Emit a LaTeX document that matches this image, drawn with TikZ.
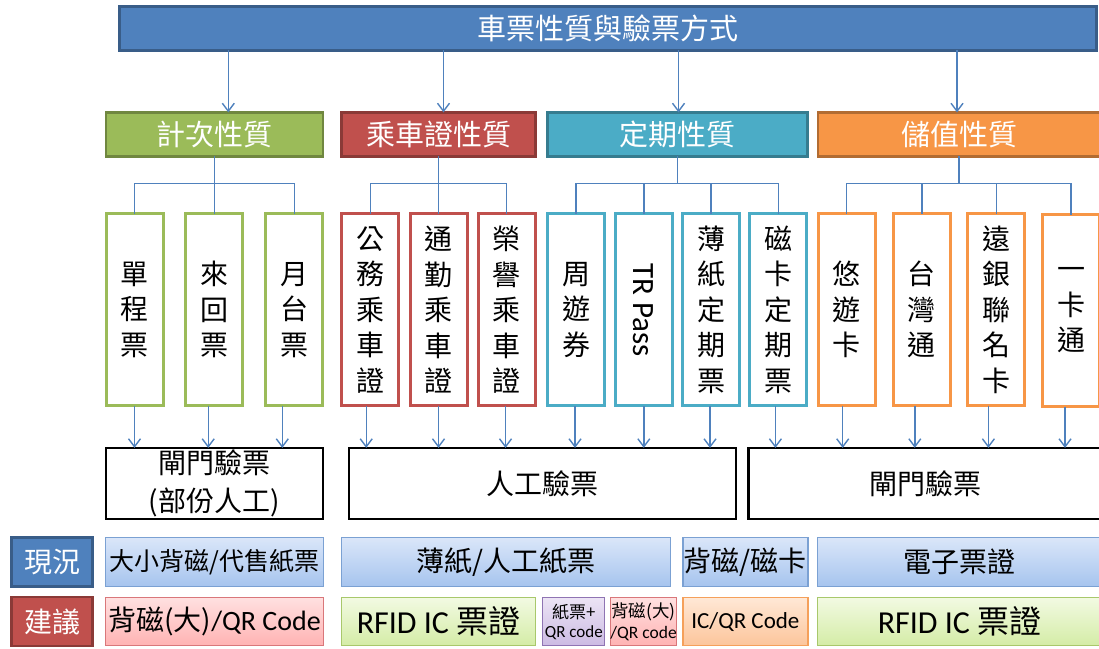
\documentclass[tikz,border=0pt]{standalone}
\usepackage{fontspec}
\setmainfont{Carlito}
\newfontfamily\cjk{Noto Sans CJK TC}
\usetikzlibrary{arrows.meta,positioning}
\definecolor{linkblue}{HTML}{4F81BD}
\definecolor{topblue}{HTML}{4F81BD}
\definecolor{catgreen}{HTML}{9BBB59}
\definecolor{catred}{HTML}{C0504D}
\definecolor{catteal}{HTML}{4BACC6}
\definecolor{catorange}{HTML}{F79646}
\definecolor{nowtop}{HTML}{DAE6F9}
\definecolor{nowbot}{HTML}{A6C4EE}
\definecolor{nowline}{HTML}{7BA1D3}
\definecolor{pinktop}{HTML}{FFE0E0}
\definecolor{pinkbot}{HTML}{FFB3B3}
\definecolor{pinkline}{HTML}{D9777A}
\definecolor{greentop}{HTML}{F2FAE2}
\definecolor{greenbot}{HTML}{D4ECA6}
\definecolor{greenline}{HTML}{A8C86B}
\definecolor{purpletop}{HTML}{ECE4F5}
\definecolor{purplebot}{HTML}{CCBBE3}
\definecolor{purpleline}{HTML}{8F74B3}
\definecolor{orangetop}{HTML}{FFE8D6}
\definecolor{orangebot}{HTML}{FCC59B}
\definecolor{orangeline}{HTML}{F5A05A}
\tikzset{every node/.style={inner sep=0pt,outer sep=0pt}}
\tikzset{
  catbox/.style={draw=#1!72!black,fill=#1,line width=2.5pt,text=white,
    minimum height=44pt,font=\cjk\fontsize{29}{34}\selectfont},
  leafbox/.style={draw=#1,fill=white,line width=3pt,minimum width=57pt,
    minimum height=192pt,align=center,font=\cjk\fontsize{28}{35.5}\selectfont},
  waybox/.style={draw=black,line width=2.5pt,minimum height=71pt,align=center,
    font=\cjk\fontsize{28}{38}\selectfont},
  tagbox/.style={draw=#1!72!black,fill=#1,line width=2.5pt,text=white,
    minimum width=81pt,minimum height=49pt,font=\cjk\fontsize{28}{34}\selectfont},
  nowbox/.style={draw=nowline,line width=1.2pt,top color=nowtop,bottom color=nowbot,
    minimum height=49pt,font=\cjk\fontsize{28}{34}\selectfont},
  ideabox/.style={draw=#1line,line width=1.2pt,top color=#1top,bottom color=#1bot,
    minimum height=48pt,align=center,font=\fontsize{28}{34}\selectfont},
  link/.style={draw=linkblue,line width=1.4pt}
}

\begin{document}
\begin{tikzpicture}[x=1pt,y=-1pt,>={Straight Barb[length=8pt,width=12pt]}]
\useasboundingbox (0,0) rectangle (1099,648);
% \draw[help lines] (0,0) grid (1099,648);
\node (top) [catbox=topblue,minimum width=977pt] at (608.2,28.4) {車票性質與驗票方式};
%
\node (c1) [catbox=catgreen,minimum width=217pt] at (214.3,134.4) {計次性質};
\node (c2) [catbox=catred,minimum width=194pt] at (438.5,134.4) {乘車證性質};
\node (c3) [catbox=catteal,minimum width=260pt] at (677.5,134.4) {定期性質};
\node (c4) [catbox=catorange,minimum width=282pt] at (959,134.4) {儲值性質};
%
\node (l1) [leafbox=catgreen] at (134.5,309.8) {單\\程\\票};
\node (l2) [leafbox=catgreen] at (214.2,309.8) {來\\回\\票};
\node (l3) [leafbox=catgreen] at (294.3,309.8) {月\\台\\票};
\node (l4) [leafbox=catred] at (370.2,309.8) {公\\務\\乘\\車\\證};
\node (l5) [leafbox=catred] at (438.5,309.8) {通\\勤\\乘\\車\\證};
\node (l6) [leafbox=catred] at (506.5,309.8) {榮\\譽\\乘\\車\\證};
\node (l7) [leafbox=catteal] at (576,309.8) {周\\遊\\券};
\node (l8) [leafbox=catteal] at (643.8,309.8) {\rotatebox{-90}{\rmfamily\fontsize{31}{34}\selectfont TR Pass}};
\node (l9) [leafbox=catteal] at (711,309.8) {薄\\紙\\定\\期\\票};
\node (l10) [leafbox=catteal] at (778.4,309.8) {磁\\卡\\定\\期\\票};
\node (l11) [leafbox=catorange] at (846.7,309.8) {悠\\遊\\卡};
\node (l12) [leafbox=catorange] at (921.8,309.8) {台\\灣\\通};
\node (l13) [leafbox=catorange] at (996.4,309.8) {遠\\銀\\聯\\名\\卡};
\node (l14) [leafbox=catorange] at (1071,310.5) {一\\卡\\通};
%
\node (m1) [waybox,minimum width=217pt] at (214.3,483.4) {閘門驗票\\(部份人工)};
\node (m2) [waybox,minimum width=387pt] at (542.3,483.4) {人工驗票};
\node (m3) [waybox,minimum width=354pt] at (925.5,483.4) {閘門驗票};
%
\node (s0) [tagbox=topblue] at (52.2,562.2) {現況};
\node (s1) [nowbox,minimum width=218pt,font=\cjk\fontsize{25}{30}\selectfont] at (214.6,562.2) {大小背磁/代售紙票};
\node (s2) [nowbox,minimum width=329pt] at (505.8,562.2) {薄紙/人工紙票};
\node (s3) [nowbox,minimum width=125pt] at (745.4,562.2) {背磁/磁卡};
\node (s4) [nowbox,minimum width=284pt] at (959.5,562.2) {電子票證};
%
\node (g0) [tagbox=catred] at (52.2,621.7) {建議};
\node (g1) [ideabox=pink,minimum width=218pt] at (214.6,621.7) {{\cjk 背磁(大)}/QR Code};
\node (g2) [ideabox=green,minimum width=194pt,font=\fontsize{32}{36}\selectfont] at (438.5,621.7) {RFID IC {\cjk 票證}};
\node (g3) [ideabox=purple,minimum width=62pt,font=\fontsize{17}{19}\selectfont] at (573.8,621.7) {{\cjk 紙票+}\\QR code};
\node (g4) [ideabox=pink,minimum width=62pt,font=\fontsize{17.5}{21}\selectfont] at (643.6,621.7) {{\cjk 背磁(大)}\\/QR code};
\node (g5) [ideabox=orange,minimum width=125pt,font=\fontsize{23}{28}\selectfont] at (745.4,621.7) {IC/QR Code};
\node (g6) [ideabox=green,minimum width=284pt,font=\fontsize{32}{36}\selectfont] at (959.5,621.7) {RFID IC {\cjk 票證}};
%
\foreach \c/\dx in {c1/14,c2/5,c3/1,c4/-2}
  \draw[link,<-] ([xshift=\dx pt]\c.north) -- ([xshift=\dx pt]\c.north |- top.south);
\foreach \c/\l in {c1/l1,c1/l2,c1/l3,c2/l4,c2/l5,c2/l6,c3/l7,c3/l8,c3/l9,c3/l10,c4/l11,c4/l12,c4/l13,c4/l14}
  \draw[link] (\c.south) -- ++(0,27) -| (\l.north);
\foreach \l/\m/\dx in {l1/m1/0,l2/m1/-6,l3/m1/-12,l4/m2/-4,l5/m2/0,l6/m2/-1,l7/m2/-1,l8/m2/0,
    l9/m2/-1,l10/m3/-3,l11/m3/-4,l12/m3/-7,l13/m3/-8,l14/m3/-6}
  \draw[link,->] ([xshift=\dx pt]\l.south) -- ([xshift=\dx pt]\l.south |- \m.north);
\end{tikzpicture}
\end{document}
